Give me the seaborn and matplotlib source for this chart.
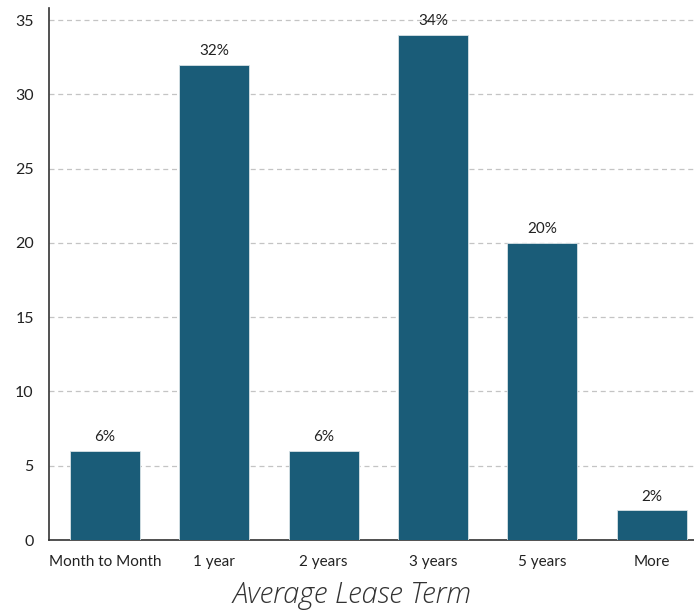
import matplotlib
matplotlib.use("Agg")
import matplotlib.pyplot as plt
import seaborn as sns
import pandas as pd

terms = ["Month to Month", "1 year", "2 years", "3 years", "5 years", "More"]
shares = [6, 32, 6, 34, 20, 2]

df = pd.DataFrame({"term": terms, "share": shares})

sns.set_theme(style="white")
plt.rcParams["font.family"] = ["Lato", "DejaVu Sans"]

fig = plt.figure(figsize=(6.94, 6.12), dpi=100)
ax = fig.add_axes([0.0706, 0.1176, 0.929, 0.869])

sns.barplot(data=df, x="term", y="share", color="#1a5c78", width=0.64,
            edgecolor="#d8e2e6", linewidth=0.6, saturation=1, ax=ax, zorder=3)

for i, v in enumerate(shares):
    ax.text(i, v + 0.45, f"{v}%", ha="center", va="bottom", fontsize=11, color="#222222")

ax.set_xlim(-0.512, 5.384)
ax.set_ylim(0, 35.8)
ax.set_yticks(range(0, 36, 5))
ax.yaxis.grid(True, linestyle=(0, (4, 3)), color="#c4c4c4", linewidth=0.9, zorder=0)
ax.set_axisbelow(True)
ax.tick_params(axis="both", length=0, colors="#222222")
ax.tick_params(axis="x", pad=11, labelsize=11)
ax.tick_params(axis="y", pad=11, labelsize=11.5)

for s in ["top", "right"]:
    ax.spines[s].set_visible(False)
for s in ["left", "bottom"]:
    ax.spines[s].set_color("#333333")
    ax.spines[s].set_linewidth(1.2)

ax.set_xlabel("")
ax.set_ylabel("")
fig.text(0.508, 0.004, "Average Lease Term", ha="center", va="bottom",
         fontsize=21, style="italic", fontweight="light", color="#333333",
         family=["Open Sans", "DejaVu Sans"])

fig.savefig("out.png", dpi=100)
